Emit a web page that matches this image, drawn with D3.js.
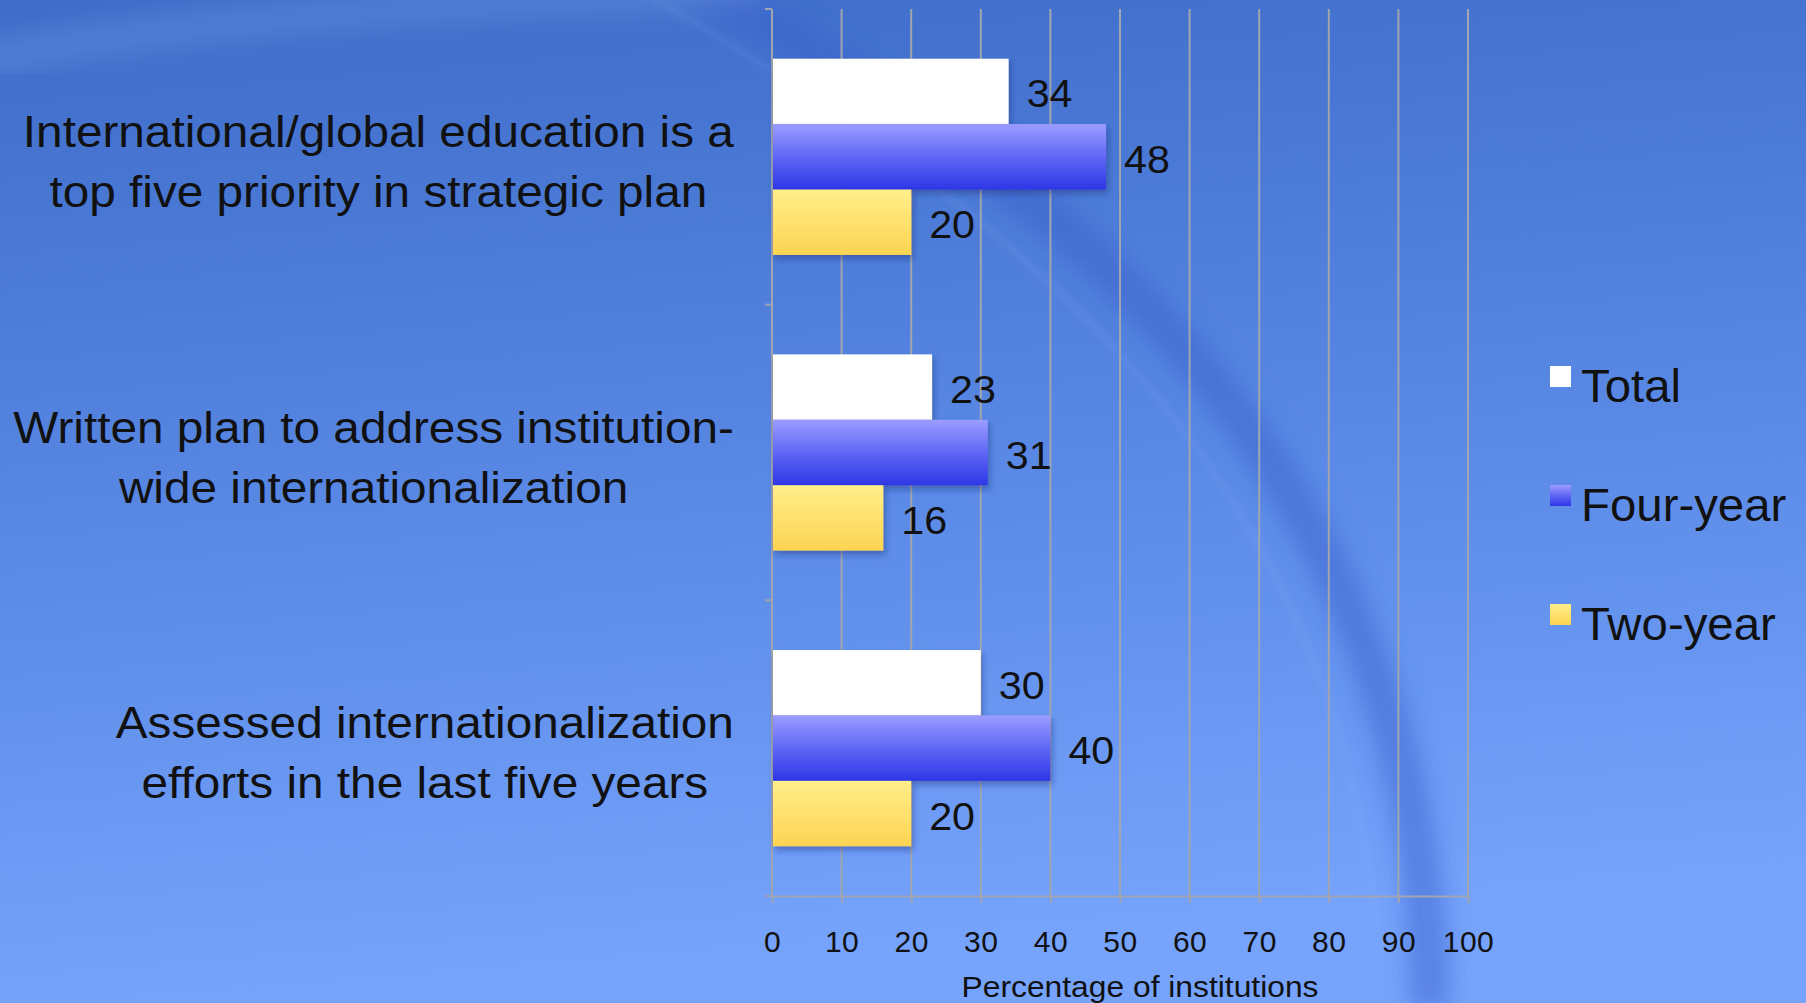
<!DOCTYPE html>
<html>
<head>
<meta charset="utf-8">
<script src="https://cdn.jsdelivr.net/npm/d3@7"></script>
<style>
    html, body { margin: 0; padding: 0; overflow: hidden; }
    svg { display: block; font-family: 'Liberation Sans', Arial, Helvetica, sans-serif; }
</style>
</head>
<body>
<div id="chart"></div>
<script>
// Data
var categories = [
    ['International/global education is a', 'top five priority in strategic plan'],
    ['Written plan to address institution-', 'wide internationalization'],
    ['Assessed internationalization', 'efforts in the last five years'],
];
var series = ['Total', 'Four-year', 'Two-year'];
var total = [34, 23, 30];
var fourYear = [48, 31, 40];
var twoYear = [20, 16, 20];
var xTicks = [0, 10, 20, 30, 40, 50, 60, 70, 80, 90, 100];

var W = 1806,
    H = 1003;
var margin = { top: 9, left: 772, right: 338, bottom: 107 };
var plotBottom = H - margin.bottom;
var gridColor = '#a0a5b0';
var stretch = 1.085; // source font is a touch wider than Liberation Sans

var svg = d3.select('#chart').append('svg').attr('width', W).attr('height', H);
var defs = svg.append('defs');

// Background gradient
var bg = defs.append('linearGradient').attr('id', 'bg').attr('x1', 0).attr('y1', 0).attr('x2', 0.15).attr('y2', 1);
bg.append('stop').attr('offset', '0%').attr('stop-color', '#3e6cc8');
bg.append('stop').attr('offset', '55%').attr('stop-color', '#5a8ae6');
bg.append('stop').attr('offset', '100%').attr('stop-color', '#76a3fc');

var blueGrad = defs.append('linearGradient').attr('id', 'gBlue').attr('x1', 0).attr('y1', 0).attr('x2', 0).attr('y2', 1);
blueGrad.append('stop').attr('offset', '0%').attr('stop-color', '#9c9cff');
blueGrad.append('stop').attr('offset', '55%').attr('stop-color', '#5a62f4');
blueGrad.append('stop').attr('offset', '100%').attr('stop-color', '#2e36e6');

var yellowGrad = defs.append('linearGradient').attr('id', 'gYellow').attr('x1', 0).attr('y1', 0).attr('x2', 0).attr('y2', 1);
yellowGrad.append('stop').attr('offset', '0%').attr('stop-color', '#ffee8a');
yellowGrad.append('stop').attr('offset', '100%').attr('stop-color', '#fdd452');

var shadow = defs.append('filter').attr('id', 'shadow').attr('x', '-5%').attr('y', '-10%').attr('width', '115%').attr('height', '140%');
shadow.append('feDropShadow').attr('dx', 2).attr('dy', 4).attr('stdDeviation', 3).attr('flood-color', '#1a2a70').attr('flood-opacity', 0.4);

defs.append('filter').attr('id', 'blur').attr('x', '-20%').attr('y', '-20%').attr('width', '140%').attr('height', '140%')
    .append('feGaussianBlur').attr('stdDeviation', 12);
defs.append('filter').attr('id', 'blurS').attr('x', '-20%').attr('y', '-20%').attr('width', '140%').attr('height', '140%')
    .append('feGaussianBlur').attr('stdDeviation', 3);

svg.append('rect').attr('width', W).attr('height', H).attr('fill', 'url(#bg)');

// Decorative swoosh (background only)
var deco = svg.append('g');
deco.append('path')
    .attr('d', 'M 710 -10 C 1030 170, 1425 440, 1430 1010')
    .attr('fill', 'none').attr('stroke', '#3560cc').attr('stroke-opacity', 0.5).attr('stroke-width', 40)
    .attr('filter', 'url(#blur)');
deco.append('path')
    .attr('d', 'M 640 -10 C 960 180, 1370 450, 1380 1010')
    .attr('fill', 'none').attr('stroke', '#8cb0f4').attr('stroke-opacity', 0.18).attr('stroke-width', 4)
    .attr('filter', 'url(#blurS)');
deco.append('path')
    .attr('d', 'M -20 60 C 200 15, 500 0, 760 -10')
    .attr('fill', 'none').attr('stroke', '#7fa4ea').attr('stroke-opacity', 0.25).attr('stroke-width', 34)
    .attr('filter', 'url(#blur)');

var colors = { 'Total': '#ffffff', 'Four-year': 'url(#gBlue)', 'Two-year': 'url(#gYellow)' };

// Scales
var x = d3.scaleLinear().domain([0, 100]).range([margin.left, W - margin.right]);
var y0 = d3.scaleBand().domain(d3.range(categories.length)).range([margin.top, plotBottom]).paddingInner(0);
var y1 = d3.scaleBand().domain(series).range([0, y0.bandwidth()]).paddingInner(0).paddingOuter(0.76);

var data = categories.map(function (c, i) {
    return { cat: i, values: [total[i], fourYear[i], twoYear[i]] };
});

// Gridlines
svg.append('g')
    .selectAll('line')
    .data(xTicks)
    .enter()
    .append('line')
    .attr('x1', (d) => x(d))
    .attr('x2', (d) => x(d))
    .attr('y1', margin.top)
    .attr('y2', plotBottom)
    .attr('stroke', gridColor)
    .attr('stroke-width', 2);

// X Axis
var xAxis = d3.axisBottom(x).tickValues(xTicks).tickSize(7).tickPadding(28).tickSizeOuter(0);
var gx = svg.append('g').attr('transform', 'translate(0,' + plotBottom + ')').call(xAxis);
gx.select('.domain').attr('stroke', gridColor).attr('stroke-width', 2);
gx.selectAll('.tick line').attr('stroke', gridColor).attr('stroke-width', 2);
gx.selectAll('.tick text').attr('font-size', 30).attr('fill', '#111')
    .attr('letter-spacing', 0.5).attr('font-family', 'Liberation Sans, Arial, sans-serif');

// Y Axis (category boundaries)
var yBounds = d3.range(categories.length + 1).map((i) => margin.top + i * y0.step());
var gy = svg.append('g');
gy.append('line').attr('x1', x(0)).attr('x2', x(0)).attr('y1', margin.top).attr('y2', plotBottom)
    .attr('stroke', gridColor).attr('stroke-width', 2);
gy.selectAll('.yt').data(yBounds).enter().append('line').attr('class', 'yt')
    .attr('x1', x(0) - 7).attr('x2', x(0)).attr('y1', (d) => d).attr('y2', (d) => d)
    .attr('stroke', gridColor).attr('stroke-width', 2);

// Bars
var groups = svg.selectAll('.cat').data(data).enter().append('g').attr('class', 'cat')
    .attr('transform', (d) => 'translate(0,' + y0(d.cat) + ')');

groups.selectAll('rect')
    .data((d) => d.values.map((v, i) => ({ key: series[i], value: v })))
    .enter()
    .append('rect')
    .attr('x', x(0) + 1)
    .attr('y', (d) => y1(d.key))
    .attr('width', (d) => x(d.value) - x(0) - 1)
    .attr('height', y1.bandwidth())
    .attr('fill', (d) => colors[d.key])
    .attr('filter', 'url(#shadow)');

groups.selectAll('.val')
    .data((d) => d.values.map((v, i) => ({ key: series[i], value: v })))
    .enter()
    .append('text')
    .attr('class', 'val')
    .attr('transform', (d) => 'translate(' + (x(d.value) + 18) + ',' + (y1(d.key) + y1.bandwidth() / 2 + 16) + ') scale(' + stretch + ',1)')
    .attr('font-size', 38)
    .attr('fill', '#111')
    .text((d) => d.value);

// Category labels: block right-aligned, lines centered inside it
var labelRight = 734;
categories.forEach(function (lines, i) {
    var g = svg.append('g');
    var texts = lines.map(function (l, j) {
        return g.append('text')
            .attr('font-size', 44)
            .attr('fill', '#111')
            .attr('text-anchor', 'middle')
            .datum(y0(i) + y0.bandwidth() / 2 - 10 + j * 60)
            .text(l);
    });
    var maxW = d3.max(texts, (t) => t.node().getComputedTextLength()) * stretch;
    texts.forEach((t) => t.attr('transform', 'translate(' + (labelRight - maxW / 2) + ',' + t.datum() + ') scale(' + stretch + ',1)'));
});

// X Axis Label
svg.append('text')
    .attr('transform', 'translate(1140,997) scale(1.06,1)')
    .attr('text-anchor', 'middle')
    .attr('font-size', 30)
    .attr('fill', '#111')
    .text('Percentage of institutions');

// Legend
var legend = svg.append('g').attr('transform', 'translate(1550,366)');
var li = legend.selectAll('g').data(series).enter().append('g')
    .attr('transform', (d, i) => 'translate(0,' + i * 119 + ')');
li.append('rect').attr('width', 21).attr('height', 21).attr('fill', (d) => colors[d]);
li.append('text').attr('transform', 'translate(31,36) scale(1.03,1)').attr('font-size', 46)
    .attr('fill', '#111').text((d) => d);
</script>
</body>
</html>
